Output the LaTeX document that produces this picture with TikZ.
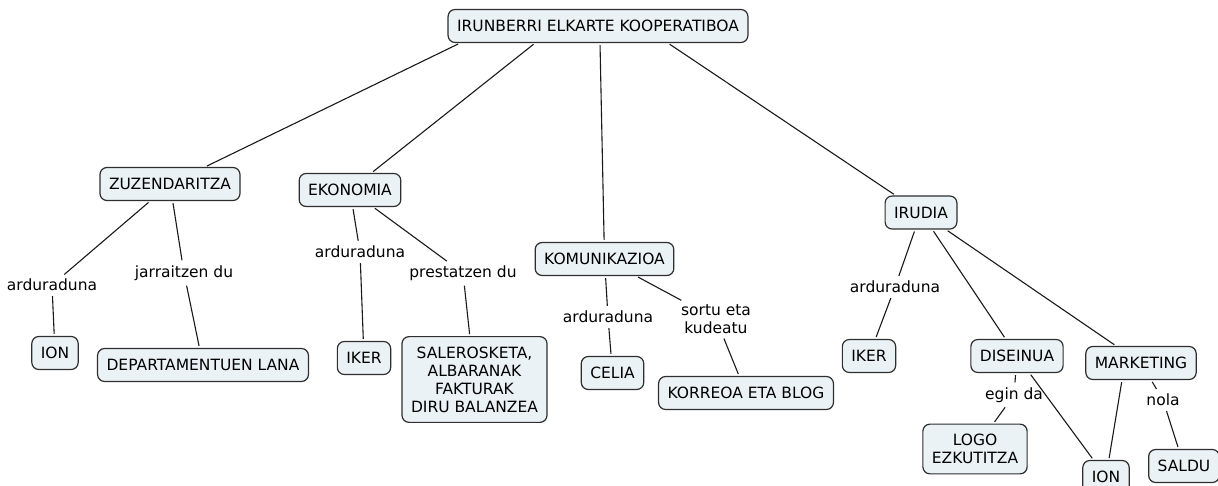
\documentclass[tikz,border=0pt]{standalone}
\usepackage{fontspec}
\setmainfont{DejaVu Sans}
\definecolor{boxfill}{HTML}{EBF2F5}
\definecolor{boxline}{HTML}{2E2E2E}
\begin{document}
\begin{tikzpicture}[x=1pt,y=-1pt,
  concept/.style={draw=boxline,fill=boxfill,line width=1.2pt,rounded corners=7pt,
    inner xsep=9pt,inner ysep=4pt,minimum height=33pt,align=center,
    font=\fontsize{15.5}{18}\selectfont},
  multiconcept/.style={concept,inner ysep=10pt},
  linkp/.style={inner sep=3pt,align=center,font=\fontsize{15.5}{18}\selectfont},
  conn/.style={draw=black!90,line width=1.1pt,shorten <=2pt,shorten >=2pt}]
\useasboundingbox (0,0) rectangle (1218,486);
% concepts
\node[concept] (root) at (598,26) {IRUNBERRI ELKARTE KOOPERATIBOA};
\node[concept] (zuz) at (170,184) {ZUZENDARITZA};
\node[concept] (ekon) at (350,190) {EKONOMIA};
\node[concept] (komun) at (604.5,259) {KOMUNIKAZIOA};
\node[concept] (irudia) at (921,212.5) {IRUDIA};
\node[concept] (ion1) at (55,353) {ION};
\node[concept] (dep) at (203,365) {DEPARTAMENTUEN LANA};
\node[concept] (iker1) at (364,358) {IKER};
\node[multiconcept] (sale) at (474.5,379.5) {SALEROSKETA,\\ ALBARANAK\\FAKTURAK\\DIRU BALANZEA};
\node[concept] (celia) at (612.5,373) {CELIA};
\node[concept] (korreoa) at (746,393) {KORREOA ETA BLOG};
\node[concept] (iker2) at (869,356) {IKER};
\node[concept] (diseinua) at (1017,356) {DISEINUA};
\node[concept] (marketing) at (1141,363) {MARKETING};
\node[multiconcept] (logo) at (975,449) {LOGO\\EZKUTITZA};
\node[concept] (ion2) at (1106,477) {ION};
\node[concept] (saldu) at (1184,466) {SALDU};
% linking phrases
\node[linkp] (ard1) at (52,285) {arduraduna};
\node[linkp] (jar) at (184,273) {jarraitzen du};
\node[linkp] (ard2) at (360,252) {arduraduna};
\node[linkp] (prest) at (463,273) {prestatzen du};
\node[linkp] (ard3) at (608,317) {arduraduna};
\node[linkp] (sortu) at (716,319) {sortu eta\\kudeatu};
\node[linkp] (ard4) at (895,287) {arduraduna};
\node[linkp] (egin) at (1014,395) {egin da};
\node[linkp] (nola) at (1163,400) {nola};
% connectors
\draw[conn] ([xshift=-138pt]root.south) -- (zuz);
\draw[conn] ([xshift=-63pt]root.south) -- (ekon);
\draw[conn] ([xshift=2pt]root.south) -- (komun);
\draw[conn] ([xshift=70pt]root.south) -- (irudia);
\draw[conn] (zuz) -- (ard1);
\draw[conn] (ard1) -- (ion1);
\draw[conn] (zuz) -- (jar);
\draw[conn] (jar) -- (dep);
\draw[conn] (ekon) -- (ard2);
\draw[conn] (ard2) -- (iker1);
\draw[conn] (ekon) -- (prest);
\draw[conn] (prest) -- (sale);
\draw[conn] (komun) -- (ard3);
\draw[conn] (ard3) -- (celia);
\draw[conn] (komun) -- (sortu);
\draw[conn] (sortu) -- (korreoa);
\draw[conn] (irudia) -- (ard4);
\draw[conn] (ard4) -- (iker2);
\draw[conn] (irudia) -- (diseinua);
\draw[conn] (irudia) -- (marketing);
\draw[conn] (diseinua) -- (egin);
\draw[conn] (egin) -- (logo);
\draw[conn] (diseinua) -- (ion2);
\draw[conn] ([xshift=-19pt]marketing.south) -- (ion2);
\draw[conn] (marketing) -- (nola);
\draw[conn] (nola) -- (saldu);
\end{tikzpicture}
\end{document}
